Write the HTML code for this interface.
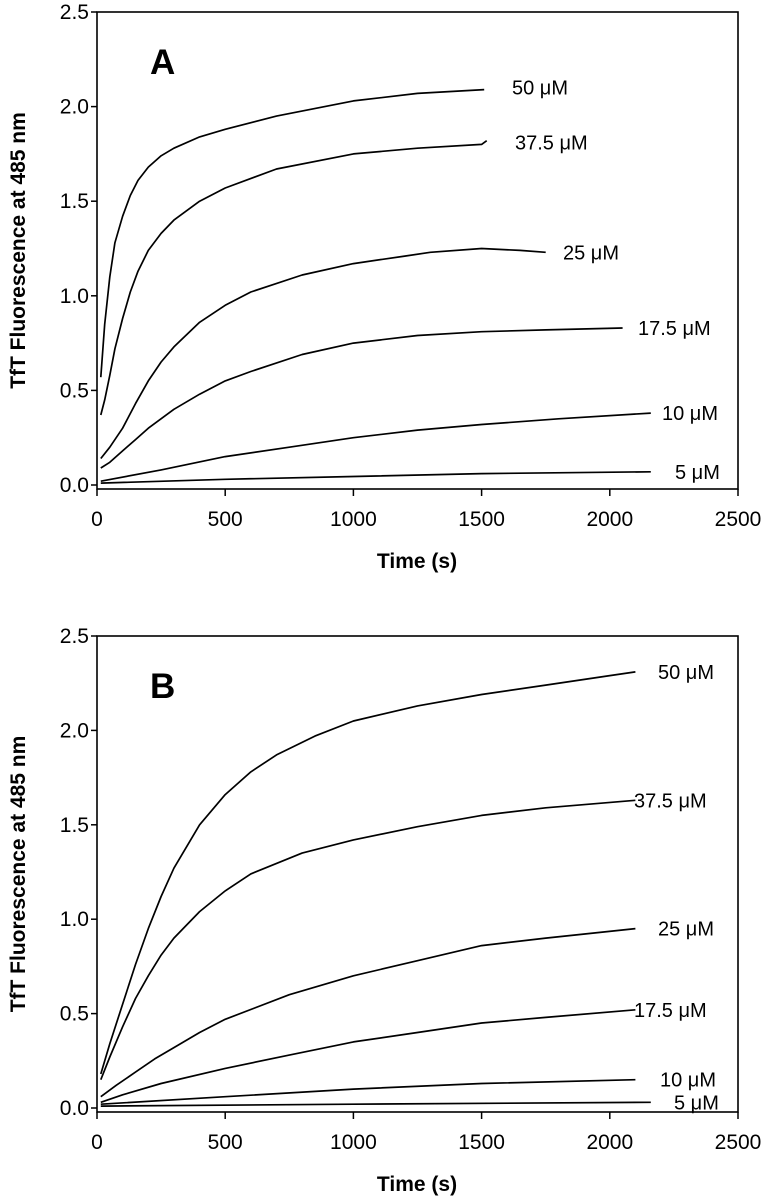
<!DOCTYPE html>
<html><head><meta charset="utf-8"><style>
html,body{margin:0;padding:0;background:#fff}
svg{display:block;font-family:"Liberation Sans",Arial,sans-serif}
</style></head><body>
<svg id="chart" width="770" height="1199" viewBox="0 0 770 1199"></svg>
<script>
const times = {
  A50:[15,30,50,70,100,130,160,200,250,300,400,500,700,1000,1250,1510],
  A37:[15,30,50,70,100,130,160,200,250,300,400,500,700,1000,1250,1500,1520],
  A25:[15,50,100,150,200,250,300,400,500,600,800,1000,1200,1300,1500,1650,1750],
  A17:[15,50,100,150,200,300,400,500,600,800,1000,1250,1500,1750,2050],
  A10:[15,250,500,750,1000,1250,1500,1800,2160],
  A5:[15,500,1000,1500,2160],
  B50:[15,50,100,150,200,250,300,400,500,600,700,850,1000,1250,1500,1750,2000,2100],
  B37:[15,50,100,150,200,250,300,400,500,600,800,1000,1250,1500,1750,2100],
  B25:[15,75,150,225,300,400,500,750,1000,1250,1500,1750,2100],
  B17:[15,100,250,500,750,1000,1250,1500,1750,2100],
  B10:[15,500,1000,1500,2100],
  B5:[15,1000,2160]
};
const values = {
  A50:[0.57,0.85,1.10,1.28,1.42,1.53,1.61,1.68,1.74,1.78,1.84,1.88,1.95,2.03,2.07,2.09],
  A37:[0.37,0.45,0.58,0.72,0.88,1.02,1.13,1.24,1.33,1.40,1.50,1.57,1.67,1.75,1.78,1.80,1.82],
  A25:[0.14,0.20,0.30,0.43,0.55,0.65,0.73,0.86,0.95,1.02,1.11,1.17,1.21,1.23,1.25,1.24,1.23],
  A17:[0.09,0.12,0.18,0.24,0.30,0.40,0.48,0.55,0.60,0.69,0.75,0.79,0.81,0.82,0.83],
  A10:[0.02,0.08,0.15,0.20,0.25,0.29,0.32,0.35,0.38],
  A5:[0.01,0.03,0.045,0.06,0.07],
  B50:[0.18,0.34,0.55,0.76,0.95,1.12,1.27,1.50,1.66,1.78,1.87,1.97,2.05,2.13,2.19,2.24,2.29,2.31],
  B37:[0.15,0.27,0.43,0.58,0.70,0.81,0.90,1.04,1.15,1.24,1.35,1.42,1.49,1.55,1.59,1.63],
  B25:[0.06,0.12,0.19,0.26,0.32,0.40,0.47,0.60,0.70,0.78,0.86,0.90,0.95],
  B17:[0.03,0.07,0.13,0.21,0.28,0.35,0.40,0.45,0.48,0.52],
  B10:[0.02,0.06,0.10,0.13,0.15],
  B5:[0.01,0.02,0.03]
};
const seriesA = ['A50','A37','A25','A17','A10','A5'];
const seriesB = ['B50','B37','B25','B17','B10','B5'];
const labelsA = [['50 μM',512,2.10],['37.5 μM',515,1.81],['25 μM',563,1.23],['17.5 μM',638,0.83],['10 μM',662,0.38],['5 μM',675,0.07]];
const labelsB = [['50 μM',658,2.31],['37.5 μM',634,1.63],['25 μM',658,0.95],['17.5 μM',634,0.52],['10 μM',660,0.15],['5 μM',674,0.03]];
const yTicks = [0,0.5,1.0,1.5,2.0,2.5];
const xTicks = [0,500,1000,1500,2000,2500];

const svg = document.getElementById('chart');
const NS = 'http://www.w3.org/2000/svg';
function mk(tag, attrs, text){
  const e = document.createElementNS(NS, tag);
  for (const k in attrs) e.setAttribute(k, attrs[k]);
  if (text !== undefined) e.textContent = text;
  svg.appendChild(e);
  return e;
}
const X0 = 97, X1 = 738;
function xs(t){ return X0 + t/2500*(X1-X0); }

function panel(id, top, axisY, series, labels, letter){
  const y0 = axisY - 4;
  const ys = v => y0 - v/2.5*(y0-top);
  let e = mk('rect',{x:X0,y:top,width:X1-X0,height:axisY-top,fill:'none',stroke:'#000','stroke-width':1.6});
  
  
  yTicks.forEach(v=>{
    const y = ys(v);
    let t = mk('line',{x1:X0-6,x2:X0,y1:y,y2:y,stroke:'#000','stroke-width':1.5});
    
    
    let l = mk('text',{x:X0-8,y:y+7,'text-anchor':'end','font-size':21},v.toFixed(1));
    
    
  });
  xTicks.forEach(v=>{
    const x = xs(v);
    let t = mk('line',{x1:x,x2:x,y1:axisY,y2:axisY+7,stroke:'#000','stroke-width':1.5});
    
    
    let l = mk('text',{x:x,y:axisY+37,'text-anchor':'middle','font-size':21},String(v));
    
    
  });
  let xt = mk('text',{x:417,y:axisY+79,'text-anchor':'middle','font-size':21,'font-weight':'bold'},'Time (s)');
  
  
  const cy = (top+axisY)/2;
  let yt = mk('text',{x:0,y:0,'text-anchor':'middle','font-size':21,'font-weight':'bold',transform:`translate(25,${cy}) rotate(-90)`},'TfT Fluorescence at 485 nm');
  
  
  let pl = mk('text',{x:150,y:top+62,'font-size':35,'font-weight':'bold'},letter);
  
  
  series.forEach(s=>{
    const T = times[s], V = values[s];
    let d = '';
    for (let i=0;i<T.length;i++) d += (i?'L':'M') + xs(T[i]).toFixed(1)+','+ys(V[i]).toFixed(1);
    let p = mk('path',{d:d,fill:'none',stroke:'#000','stroke-width':1.7,'stroke-linejoin':'round'});
    
    
  });
  labels.forEach(L=>{
    let t = mk('text',{x:L[1],y:ys(L[2])+7,'font-size':20},L[0]);
    
    
  });
}
panel('a', 12, 489, seriesA, labelsA, 'A');
panel('b', 636, 1112, seriesB, labelsB, 'B');
</script>
</body></html>
